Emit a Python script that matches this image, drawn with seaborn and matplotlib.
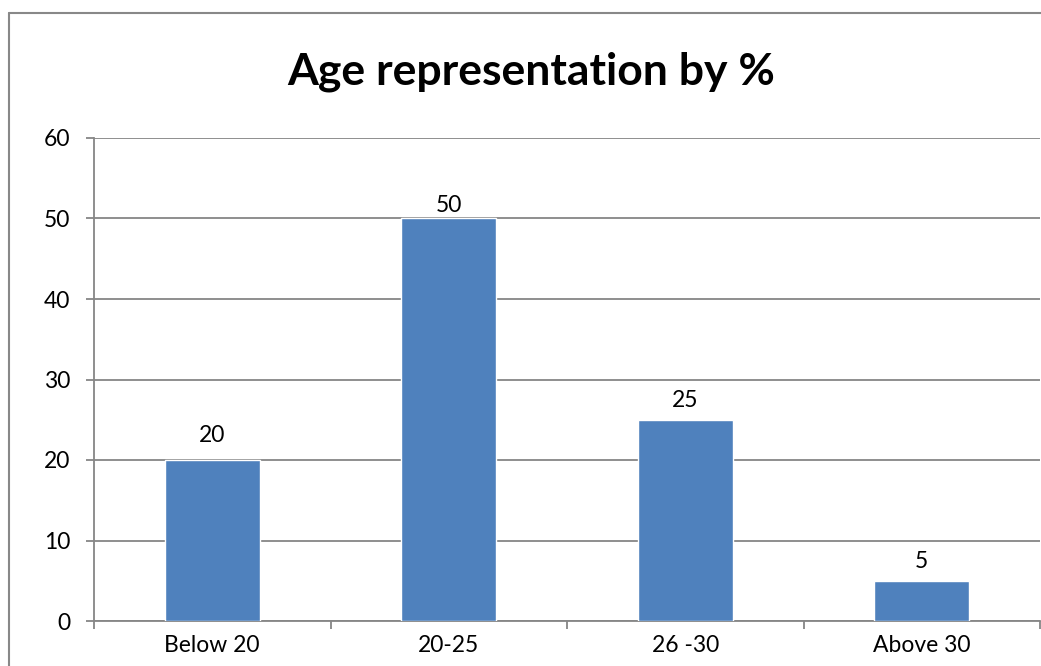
import matplotlib
matplotlib.use("Agg")
import matplotlib.pyplot as plt
import seaborn as sns
import pandas as pd
from matplotlib.lines import Line2D

categories = ["Below 20", "20-25", "26 -30", "Above 30"]
values = [20, 50, 25, 5]
yticks = [0, 10, 20, 30, 40, 50, 60]
title = "Age representation by %"

df = pd.DataFrame({"cat": categories, "val": values})

sns.set_theme(style="white")
plt.rcParams["font.family"] = ["Lato", "DejaVu Sans"]
plt.rcParams["text.color"] = "black"

fig = plt.figure(figsize=(10.41, 6.66), dpi=100)
ax = fig.add_axes([94/1041, 45/666, 946/1041, 483/666])

grid_c = "#868686"
sns.barplot(data=df, x="cat", y="val", color="#4F81BD", saturation=1,
            width=0.4, ax=ax, zorder=3)

ax.set_ylim(0, 60)
ax.set_xlim(-0.5, 3.5)
ax.set_yticks(yticks)
ax.yaxis.grid(True, color=grid_c, linewidth=1.3, zorder=0)
ax.set_axisbelow(True)
ax.set_xlabel("")
ax.set_ylabel("")

for s in ["top", "right"]:
    ax.spines[s].set_visible(False)
for s in ["left", "bottom"]:
    ax.spines[s].set_color(grid_c)
    ax.spines[s].set_linewidth(1.3)

ax.tick_params(axis="y", which="major", left=True, length=6, width=1.3,
               color=grid_c, pad=11, labelsize=16.5, labelcolor="black")
ax.tick_params(axis="x", which="major", bottom=False, length=0, pad=10,
               labelsize=16.5, labelcolor="black")
ax.set_xticks([-0.5, 0.5, 1.5, 2.5, 3.5], minor=True)
ax.tick_params(axis="x", which="minor", bottom=True, length=6, width=1.3,
               color=grid_c)

# label offsets (points) as placed in the original chart
label_pads = [10, 2, 6, 6]
bars = ax.containers[0]
for rect, v, p in zip(bars.patches, values, label_pads):
    ax.annotate(str(v), (rect.get_x() + rect.get_width() / 2, rect.get_height()),
                xytext=(0, p), textcoords="offset points", ha="center",
                va="bottom", fontsize=16.5, color="black")

fig.text(531/1041, 1 - 72/666, title, ha="center", va="center",
         fontsize=32, fontweight="bold", color="black")

# outer chart border
fig.add_artist(Line2D([9/1041, 9/1041], [0, 1 - 13/666], color="#888888",
                      linewidth=1.5, transform=fig.transFigure))
fig.add_artist(Line2D([9/1041, 1], [1 - 13/666, 1 - 13/666], color="#888888",
                      linewidth=1.5, transform=fig.transFigure))

fig.savefig("out.png", dpi=100)
